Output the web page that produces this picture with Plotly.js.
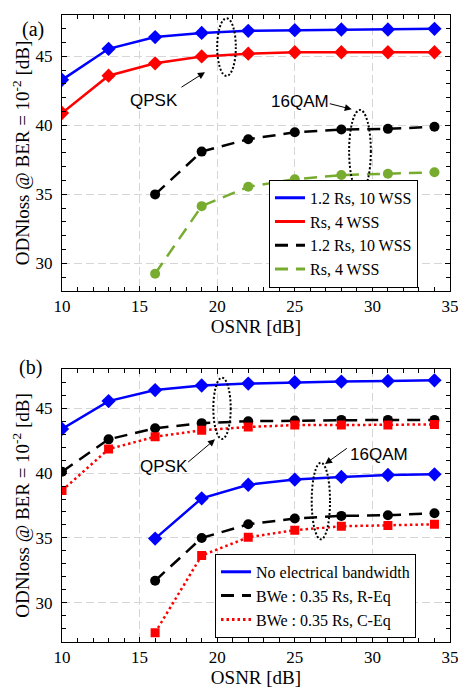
<!DOCTYPE html>
<html>
<head>
<meta charset="utf-8">
<script src="https://cdn.plot.ly/plotly-3.0.1.min.js"></script>
<style>html,body{margin:0;padding:0;background:#fff;}#chart{width:458px;height:696px;}</style>
</head>
<body>
<div id="chart"></div>
<script>
// ---- data ----
const osnrQPSK = [10, 13, 16, 19, 22, 25, 28, 31, 34];
const osnr16QAM = [16, 19, 22, 25, 28, 31, 34];

// panel (a)
const a_qpsk_12Rs_10WSS = [43.3, 45.55, 46.4, 46.7, 46.85, 46.9, 46.95, 46.95, 47.0];
const a_qpsk_Rs_4WSS    = [40.9, 43.6, 44.5, 45.0, 45.2, 45.3, 45.3, 45.3, 45.3];
const a_16qam_12Rs_10WSS = [35.0, 38.1, 39.0, 39.5, 39.7, 39.75, 39.9];
const a_16qam_Rs_4WSS    = [29.25, 34.15, 35.55, 36.1, 36.4, 36.5, 36.6];
const legendA = ["1.2 Rs, 10 WSS", "Rs, 4 WSS", "1.2 Rs, 10 WSS", "Rs, 4 WSS"];

// panel (b)
const b_qpsk_noBW = [43.4, 45.55, 46.4, 46.75, 46.9, 47.0, 47.05, 47.1, 47.15];
const b_qpsk_REq  = [40.1, 42.6, 43.45, 43.85, 44.0, 44.05, 44.1, 44.1, 44.1];
const b_qpsk_CEq  = [38.65, 41.85, 42.8, 43.3, 43.55, 43.7, 43.7, 43.7, 43.75];
const b_16qam_noBW = [34.95, 38.05, 39.1, 39.5, 39.7, 39.85, 39.9];
const b_16qam_REq  = [31.7, 35.0, 36.05, 36.5, 36.7, 36.75, 36.9];
const b_16qam_CEq  = [27.7, 33.65, 35.05, 35.6, 35.9, 35.95, 36.05];
const legendB = ["No electrical bandwidth", "BWe : 0.35 Rs, R-Eq", "BWe : 0.35 Rs, C-Eq"];

const xTitle = "OSNR [dB]";
const yTitle = "ODNloss @ BER = 10<sup>-2</sup> [dB]";

// ---- styles ----
const BLUE = "#0000ff", RED = "#ff0000", BLACK = "#000000", GREEN = "#77ac30";
const LW = 2.5;
const DASH = "13px,8px";
const DOT = "2.5px,3px";
const SERIF = "'Liberation Serif', 'Times New Roman', serif";
const SANS = "'Liberation Sans', Arial, sans-serif";

function tr(x, y, color, dash, symbol, msize, xa, ya) {
  return {x: x, y: y, mode: "lines+markers", xaxis: xa, yaxis: ya, showlegend: false,
    line: {color: color, width: LW, dash: dash},
    marker: {color: color, symbol: symbol, size: msize}, hoverinfo: "skip"};
}
function lg(name, color, dash, legend) {
  return {x: [null], y: [null], mode: "lines", name: name, legend: legend,
    line: {color: color, width: 3, dash: dash}, xaxis: "x", yaxis: "y"};
}

const data = [
  tr(osnrQPSK, a_qpsk_12Rs_10WSS, BLUE, "solid", "diamond", 11, "x", "y"),
  tr(osnrQPSK, a_qpsk_Rs_4WSS, RED, "solid", "diamond", 11, "x", "y"),
  tr(osnr16QAM, a_16qam_12Rs_10WSS, BLACK, DASH, "circle", 10, "x", "y"),
  tr(osnr16QAM, a_16qam_Rs_4WSS, GREEN, DASH, "circle", 10, "x", "y"),
  lg(legendA[0], BLUE, "solid", "legend"),
  lg(legendA[1], RED, "solid", "legend"),
  lg(legendA[2], BLACK, DASH, "legend"),
  lg(legendA[3], GREEN, DASH, "legend"),

  tr(osnrQPSK, b_qpsk_noBW, BLUE, "solid", "diamond", 11, "x2", "y2"),
  tr(osnrQPSK, b_qpsk_REq, BLACK, DASH, "circle", 10, "x2", "y2"),
  tr(osnrQPSK, b_qpsk_CEq, RED, DOT, "square", 9, "x2", "y2"),
  tr(osnr16QAM, b_16qam_noBW, BLUE, "solid", "diamond", 11, "x2", "y2"),
  tr(osnr16QAM, b_16qam_REq, BLACK, DASH, "circle", 10, "x2", "y2"),
  tr(osnr16QAM, b_16qam_CEq, RED, DOT, "square", 9, "x2", "y2"),
  lg(legendB[0], BLUE, "solid", "legend2"),
  lg(legendB[1], BLACK, DASH, "legend2"),
  lg(legendB[2], RED, DOT, "legend2")
];

function xax(anchor, domain) {
  return {anchor: anchor, domain: domain, range: [10, 35], tick0: 10, dtick: 5,
    ticks: "inside", ticklen: 5, tickcolor: "#000", mirror: "allticks",
    showline: true, linecolor: "#000", linewidth: 1,
    showgrid: true, gridcolor: "#d6d6d6", gridwidth: 1, griddash: "8px,4px", zeroline: false,
    minor: {dtick: 1, ticks: "inside", ticklen: 4, tickcolor: "#000", showgrid: false},
    tickfont: {family: SERIF, size: 17, color: "#000"},
    ticklabeloverflow: "allow",
    title: {text: xTitle, font: {family: SERIF, size: 19, color: "#000"}, standoff: 4},
    fixedrange: true};
}
function yax(anchor, domain, range) {
  return {anchor: anchor, domain: domain, range: range, tick0: 0, dtick: 5,
    ticks: "inside", ticklen: 5, tickcolor: "#000", mirror: "allticks",
    showline: true, linecolor: "#000", linewidth: 1,
    showgrid: true, gridcolor: "#d6d6d6", gridwidth: 1, griddash: "8px,4px", zeroline: false,
    minor: {dtick: 1, ticks: "inside", ticklen: 4, tickcolor: "#000", showgrid: false},
    tickfont: {family: SERIF, size: 17, color: "#000"},
    ticklabeloverflow: "allow",
    ticklabelstandoff: 5,
    title: {text: yTitle, font: {family: SERIF, size: 19, color: "#000"}, standoff: 0},
    fixedrange: true};
}

function ellipse(xref, yref, x0, x1, y0, y1) {
  return {type: "circle", xref: xref, yref: yref, x0: x0, x1: x1, y0: y0, y1: y1,
    line: {color: "#000", width: 2, dash: "2px,2px"}};
}
function arrow(xref, yref, tx, ty, hx, hy) {
  return {xref: xref, yref: yref, axref: xref, ayref: yref, x: hx, y: hy, ax: tx, ay: ty,
    text: "", showarrow: true, arrowhead: 2, arrowsize: 1.4, arrowwidth: 1, arrowcolor: "#000"};
}
function label(xref, yref, x, y, text) {
  return {xref: xref, yref: yref, x: x, y: y, text: text, showarrow: false,
    font: {family: SANS, size: 17, color: "#000"}};
}

const legendCommon = {xanchor: "left", yanchor: "bottom", bgcolor: "#ffffff", bordercolor: "#000",
  borderwidth: 1, font: {family: SERIF, size: 16, color: "#000"}, tracegroupgap: 0,
  itemclick: false, itemdoubleclick: false};

const layout = {
  width: 458, height: 696, autosize: false,
  margin: {l: 0, r: 0, t: 0, b: 0, pad: 0},
  paper_bgcolor: "#fff", plot_bgcolor: "#fff",
  xaxis: xax("y", [0.1354, 0.9825]),
  yaxis: yax("x", [0.5819, 0.97845], [28, 48]),
  xaxis2: xax("y2", [0.1354, 0.9825]),
  yaxis2: yax("x2", [0.078, 0.4694], [27, 48]),
  legend: Object.assign({x: 0.5873, y: 0.5866}, legendCommon),
  legend2: Object.assign({x: 0.4694, y: 0.0835}, legendCommon),
  shapes: [
    ellipse("x", "y", 20.0, 21.2, 43.58, 47.76),
    ellipse("x", "y", 28.5, 29.9, 35.15, 41.12),
    ellipse("x2", "y2", 19.75, 20.87, 42.63, 47.35),
    ellipse("x2", "y2", 26.09, 27.27, 34.89, 40.8)
  ],
  annotations: [
    label("x", "y", 15.93, 41.84, "QPSK"),
    arrow("x", "y", 17.6, 42.7, 19.21, 43.85),
    label("x", "y", 25.34, 41.72, "16QAM"),
    arrow("x", "y", 27.16, 41.6, 28.67, 41.17),
    label("x2", "y2", 16.6, 40.47, "QPSK"),
    arrow("x2", "y2", 18.03, 40.75, 19.86, 42.6),
    label("x2", "y2", 30.43, 41.47, "16QAM"),
    arrow("x2", "y2", 28.45, 41.99, 26.95, 40.7),
    {xref: "paper", yref: "paper", x: 0.0437, y: 0.9777, text: "(a)", showarrow: false,
      font: {family: SERIF, size: 20, color: "#000"}},
    {xref: "paper", yref: "paper", x: 0.0382, y: 0.4727, text: "(b)", showarrow: false,
      font: {family: SERIF, size: 20, color: "#000"}}
  ]
};

Plotly.newPlot("chart", data, layout, {staticPlot: true, displayModeBar: false});
</script>
</body>
</html>
